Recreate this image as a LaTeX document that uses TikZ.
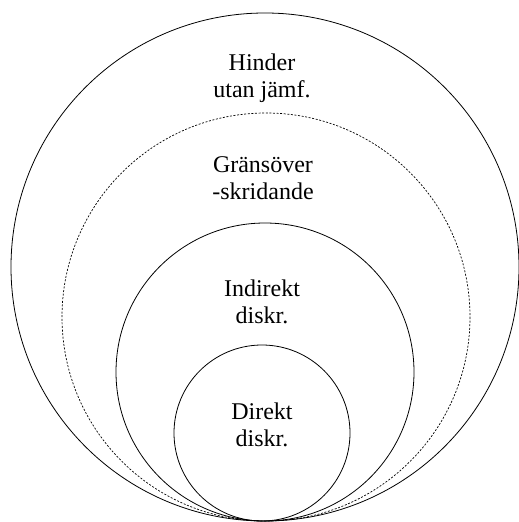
\documentclass[tikz,border=0pt]{standalone}
\usepackage{fontspec}
\setmainfont{Liberation Serif}
\begin{document}
\begin{tikzpicture}[x=1pt, y=-1pt,
            ring/.style={draw, black, line width=0.8pt},
            ringdot/.style={ring, line width=0.7pt, dash pattern=on 2pt off 1.6pt},
            lbl/.style={align=center, inner sep=0pt, font=\fontsize{24}{27}\selectfont}
        ]
            \clip (0,0) rectangle (519,522);

            % nested circles, all touching at the bottom
            \draw [ring] (265,267) circle (254);
            \draw [ringdot] (266,317) circle (204);
            \draw [ring] (265,372) circle (149);
            \draw [ring] (262,433) circle (88);

            \node (hinder) [lbl] at (262,78) {Hinder\\utan jämf.};
            \node (grans) [lbl] at (263,178) {Gränsöver\\-skridande};
            \node (indirekt) [lbl] at (262,302) {Indirekt\\diskr.};
            \node (direkt) [lbl] at (262,425) {Direkt\\diskr.};
        \end{tikzpicture}
\end{document}
